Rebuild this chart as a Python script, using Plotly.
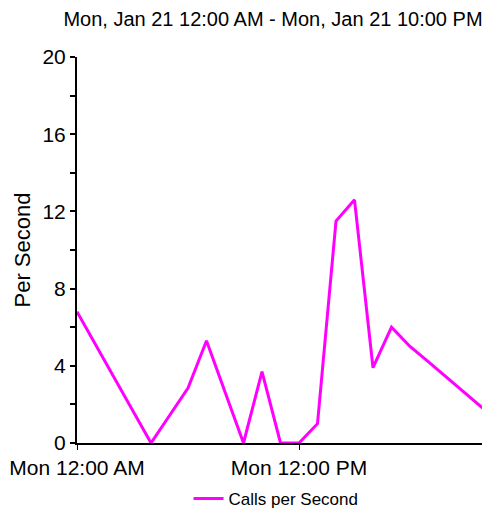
import plotly.graph_objects as go

# hourly samples (Mon, Jan 21)
times = [
    "2019-01-21 00:00", "2019-01-21 04:00", "2019-01-21 06:00", "2019-01-21 07:00",
    "2019-01-21 09:00", "2019-01-21 10:00", "2019-01-21 11:00", "2019-01-21 12:00",
    "2019-01-21 13:00", "2019-01-21 14:00", "2019-01-21 15:00", "2019-01-21 16:00",
    "2019-01-21 17:00", "2019-01-21 18:00", "2019-01-21 19:00", "2019-01-21 20:00",
    "2019-01-21 21:00", "2019-01-21 22:00",
]
calls_per_sec = [6.8, 0.0, 2.85, 5.3, 0.0, 3.7, 0.0, 0.0, 1.0, 11.5, 12.6, 3.9, 6.0,
                 5.0, 4.2, 3.4, 2.55, 1.75]

x_tickvals = ["2019-01-21 00:00", "2019-01-21 12:00"]
x_ticktext = ["Mon 12:00 AM", "Mon 12:00 PM"]
y_tickvals = [0, 4, 8, 12, 16, 20]

FONT = "Arial, Liberation Sans, sans-serif"

# page body has an 8px margin, so the figure is 8px smaller than the window
W, H = 482, 505

fig = go.Figure()
fig.add_trace(go.Scatter(
    x=times, y=calls_per_sec, mode="lines", name="Calls per Second",
    line=dict(color="#ff00ff", width=3),
))

fig.update_layout(
    width=W, height=H,
    paper_bgcolor="white", plot_bgcolor="white",
    margin=dict(l=69, r=6, t=49, b=70, autoexpand=False),
    font=dict(family=FONT, color="black"),
    title=dict(
        text="Mon, Jan 21 12:00 AM - Mon, Jan 21 10:00 PM",
        x=265 / W, xanchor="center", xref="container",
        y=1 - 11 / H, yanchor="middle", yref="container",
        font=dict(size=20, family=FONT, color="black"),
    ),
    showlegend=True,
    legend=dict(
        orientation="h", x=0.489, xanchor="center",
        y=-56 / 386, yanchor="middle",
        font=dict(size=17, family=FONT, color="black"),
        itemwidth=30,
    ),
)

fig.update_xaxes(
    range=["2019-01-21 00:00", "2019-01-21 22:00"],
    tickvals=x_tickvals, ticktext=x_ticktext,
    showgrid=False, zeroline=False, automargin=False,
    showline=True, linecolor="black", linewidth=2,
    ticks="outside", ticklen=5, tickcolor="black", tickwidth=1,
    tickfont=dict(size=21, family=FONT, color="black"),
)
fig.update_yaxes(
    range=[0, 20], tickvals=y_tickvals,
    showgrid=False, zeroline=False, automargin=False,
    showline=True, linecolor="black", linewidth=2,
    ticks="outside", ticklen=5, tickcolor="black", tickwidth=2,
    minor=dict(dtick=2, ticks="outside", ticklen=5, tickcolor="black", tickwidth=2),
    tickfont=dict(size=21, family=FONT, color="black"),
    title=dict(text="Per Second", font=dict(size=22, family=FONT, color="black"), standoff=6),
)

fig.write_html("out.html")
